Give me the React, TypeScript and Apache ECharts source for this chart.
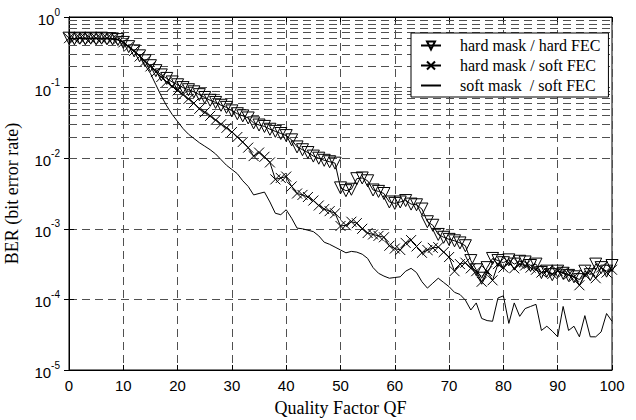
import React, { useEffect, useRef } from "react";
import * as echarts from "echarts";

// Quality factor (x)
const qf = [
  0, 1, 2, 3, 4, 5, 6, 7, 8, 9, 10, 11, 12, 13, 14, 15, 16, 17, 18, 19,
  20, 21, 22, 23, 24, 25, 26, 27, 28, 29, 30, 31, 32, 33, 34, 35, 36, 37, 38, 39,
  40, 41, 42, 43, 44, 45, 46, 47, 48, 49, 50, 51, 52, 53, 54, 55, 56, 57, 58, 59,
  60, 61, 62, 63, 64, 65, 66, 67, 68, 69, 70, 71, 72, 73, 74, 75, 76, 77, 78, 79,
  80, 81, 82, 83, 84, 85, 86, 87, 88, 89, 90, 91, 92, 93, 94, 95, 96, 97, 98, 99, 100,
];

// BER read as log10 exponents
const hardHardExp = [
  -0.30, -0.31, -0.30, -0.31, -0.30, -0.31, -0.30, -0.31, -0.31, -0.32,
  -0.36, -0.42, -0.48, -0.55, -0.62, -0.69, -0.76, -0.82, -0.87, -0.92,
  -0.96, -1.00, -1.03, -1.06, -1.10, -1.14, -1.18, -1.21, -1.25, -1.28,
  -1.33, -1.37, -1.40, -1.43, -1.50, -1.53, -1.55, -1.59, -1.62, -1.65,
  -1.68, -1.74, -1.84, -1.88, -1.92, -1.97, -2.00, -2.03, -2.05, -2.07,
  -2.42, -2.46, -2.44, -2.29, -2.28, -2.32, -2.45, -2.47, -2.50, -2.62,
  -2.64, -2.62, -2.60, -2.65, -2.66, -2.72, -2.90, -2.95, -3.08, -3.12,
  -3.15, -3.17, -3.20, -3.24, -3.45, -3.58, -3.70, -3.55, -3.42, -3.45,
  -3.48, -3.44, -3.50, -3.46, -3.47, -3.52, -3.50, -3.62, -3.60, -3.65,
  -3.60, -3.63, -3.66, -3.68, -3.72, -3.60, -3.65, -3.50, -3.55, -3.60, -3.52,
];

const hardSoftExp = [
  -0.30, -0.31, -0.30, -0.30, -0.31, -0.30, -0.31, -0.30, -0.31, -0.32,
  -0.36, -0.42, -0.48, -0.56, -0.63, -0.70, -0.78, -0.85, -0.92, -0.98,
  -1.04, -1.10, -1.16, -1.22, -1.30, -1.35, -1.40, -1.46, -1.52, -1.57,
  -1.63, -1.70, -1.77, -1.85, -1.97, -1.92, -1.98, -2.06, -2.30, -2.28,
  -2.26, -2.40, -2.50, -2.52, -2.55, -2.60, -2.67, -2.72, -2.75, -2.78,
  -2.96, -2.95, -2.90, -2.92, -3.00, -3.06, -3.08, -3.10, -3.12, -3.24,
  -3.28, -3.30, -3.20, -3.16, -3.25, -3.34, -3.30, -3.27, -3.26, -3.33,
  -3.40, -3.60, -3.50, -3.48, -3.56, -3.60, -3.75, -3.60, -3.73, -3.50,
  -3.55, -3.48, -3.56, -3.50, -3.52, -3.55, -3.58, -3.62, -3.60, -3.64,
  -3.60, -3.62, -3.65, -3.68, -3.80, -3.65, -3.60, -3.70, -3.55, -3.62, -3.58,
];

const softSoftExp = [
  -0.30, -0.31, -0.30, -0.31, -0.30, -0.30, -0.31, -0.30, -0.31, -0.32,
  -0.36, -0.42, -0.48, -0.55, -0.68, -0.80, -0.96, -1.12, -1.26, -1.38,
  -1.48, -1.58, -1.66, -1.72, -1.78, -1.83, -1.88, -1.94, -2.02, -2.10,
  -2.16, -2.22, -2.32, -2.40, -2.52, -2.50, -2.48, -2.62, -2.78, -2.80,
  -2.73, -2.85, -2.99, -3.00, -3.02, -3.04, -3.10, -3.19, -3.22, -3.26,
  -3.30, -3.34, -3.32, -3.33, -3.36, -3.42, -3.55, -3.63, -3.67, -3.70,
  -3.69, -3.68, -3.60, -3.56, -3.62, -3.75, -3.84, -3.77, -3.70, -3.76,
  -3.82, -3.90, -3.93, -4.01, -4.15, -4.05, -4.27, -4.30, -4.31, -3.98,
  -3.95, -4.34, -4.05, -4.24, -4.13, -4.10, -4.07, -4.44, -4.38, -4.45,
  -4.53, -4.10, -4.44, -4.38, -4.53, -4.23, -4.53, -4.53, -4.46, -4.20, -4.31,
];

const seriesNames = ["hard mask / hard FEC", "hard mask / soft FEC", "soft mask  / soft FEC"];

// Minor log grid: multipliers within each decade
const decades = [1e-1, 1e-2, 1e-3, 1e-4, 1e-5];
const minorMultipliers = [2, 3, 4, 5, 6, 7, 8, 9];

const GRID_COLOR = "#505050";
const DASH = [8, 5];

function toPairs(exps: number[]) {
  return qf.map((x, i) => [x, Math.pow(10, exps[i])]);
}

const crossPath = "path://M0,0L10,10M0,10L10,0";

export default function App() {
  const ref = useRef<HTMLDivElement>(null);
  useEffect(() => {
    if (!ref.current) return;
    const chart = echarts.init(ref.current, undefined, { renderer: "svg" });
    const minorLines: any[] = [];
    decades.forEach((d) => minorMultipliers.forEach((m) => minorLines.push({ yAxis: m * d })));

    const option: any = {
      animation: false,
      backgroundColor: "#fff",
      grid: {
        left: 69,
        right: 24,
        top: 17,
        bottom: 50,
        outerBoundsMode: "none",
        containLabel: false,
        show: true,
        borderColor: "#000",
        borderWidth: 1,
        backgroundColor: "transparent",
      },
      legend: {
        left: 411,
        top: 33,
        orient: "vertical",
        backgroundColor: "#fff",
        borderColor: "#000",
        borderWidth: 1,
        padding: [4, 8, 3, 9],
        itemGap: 3,
        itemWidth: 20,
        itemHeight: 10,
        data: seriesNames,
        textStyle: {
          fontFamily: "Liberation Serif",
          fontSize: 16,
          lineHeight: 17,
          color: "#000",
          padding: [0, 0, 0, 14],
        },
      },
      xAxis: [
        {
          type: "value",
          min: 0,
          max: 100,
          interval: 10,
          axisLine: { show: true, lineStyle: { color: "#000", width: 1 } },
          axisTick: { show: true, inside: true, length: 5, lineStyle: { color: "#000" } },
          axisLabel: {
            color: "#000",
            fontFamily: "Liberation Sans",
            fontSize: 15,
            margin: 8,
          },
          splitLine: { show: true, lineStyle: { color: GRID_COLOR, type: DASH, width: 1 } },
          name: "Quality Factor QF",
          nameLocation: "middle",
          nameGap: 29,
          nameTextStyle: { fontFamily: "Liberation Serif", fontSize: 18, color: "#000" },
        },
        {
          type: "value",
          position: "top",
          min: 0,
          max: 100,
          interval: 10,
          axisLine: { show: true, lineStyle: { color: "#000" } },
          axisTick: { show: true, inside: true, length: 5, lineStyle: { color: "#000" } },
          axisLabel: { show: false },
          splitLine: { show: false },
        },
      ],
      yAxis: [
        {
          type: "log",
          logBase: 10,
          min: 1e-5,
          max: 1,
          interval: 1,
          axisLine: { show: true, lineStyle: { color: "#000", width: 1 } },
          axisTick: { show: true, inside: true, length: 5, lineStyle: { color: "#000" } },
          axisLabel: {
            margin: 9,
            formatter: (v: number) => {
              const e = Math.round(Math.log10(v));
              return "{b|10}{s|" + e + "}";
            },
            rich: {
              b: {
                fontFamily: "Liberation Sans",
                fontSize: 15,
                color: "#000",
                verticalAlign: "bottom",
                lineHeight: 20,
              },
              s: {
                fontFamily: "Liberation Sans",
                fontSize: 10,
                color: "#000",
                verticalAlign: "top",
                lineHeight: 20,
              },
            },
          },
          splitLine: { show: true, lineStyle: { color: GRID_COLOR, type: DASH, width: 1 } },
          name: "BER (bit error rate)",
          nameLocation: "middle",
          nameGap: 48,
          nameTextStyle: { fontFamily: "Liberation Serif", fontSize: 18, color: "#000" },
        },
        {
          type: "log",
          logBase: 10,
          min: 1e-5,
          max: 1,
          interval: 1,
          position: "right",
          axisLine: { show: true, lineStyle: { color: "#000" } },
          axisTick: { show: true, inside: true, length: 5, lineStyle: { color: "#000" } },
          axisLabel: { show: false },
          splitLine: { show: false },
        },
      ],
      series: [
        {
          name: seriesNames[0],
          type: "line",
          xAxisIndex: 0,
          yAxisIndex: 0,
          data: toPairs(hardHardExp),
          symbol: "triangle",
          symbolRotate: 180,
          symbolSize: 12,
          showAllSymbol: true,
          lineStyle: { color: "#000", width: 1 },
          itemStyle: { color: "rgba(255,255,255,0)", borderColor: "#000", borderWidth: 1 },
          emphasis: { disabled: true },
          z: 3,
          markLine: {
            silent: true,
            symbol: ["none", "none"],
            label: { show: false },
            z: 1,
            lineStyle: { color: GRID_COLOR, type: DASH, width: 1 },
            emphasis: { disabled: true },
            data: minorLines,
          },
        },
        {
          name: seriesNames[1],
          type: "line",
          xAxisIndex: 0,
          yAxisIndex: 0,
          data: toPairs(hardSoftExp),
          symbol: crossPath,
          symbolSize: 10,
          showAllSymbol: true,
          lineStyle: { color: "#000", width: 1 },
          itemStyle: { color: "rgba(255,255,255,0)", borderColor: "#000", borderWidth: 1 },
          emphasis: { disabled: true },
          z: 3,
        },
        {
          name: seriesNames[2],
          type: "line",
          xAxisIndex: 0,
          yAxisIndex: 0,
          data: toPairs(softSoftExp),
          symbol: "circle",
          showSymbol: false,
          lineStyle: { color: "#000", width: 1 },
          itemStyle: { color: "rgba(0,0,0,0)", borderWidth: 0 },
          emphasis: { disabled: true },
          z: 3,
        },
      ],
    };
    chart.setOption(option);
    return () => chart.dispose();
  }, []);
  return (
    <div
      ref={ref}
      style={{ position: "fixed", left: 0, top: 0, width: 636, height: 420, background: "#fff" }}
    />
  );
}
